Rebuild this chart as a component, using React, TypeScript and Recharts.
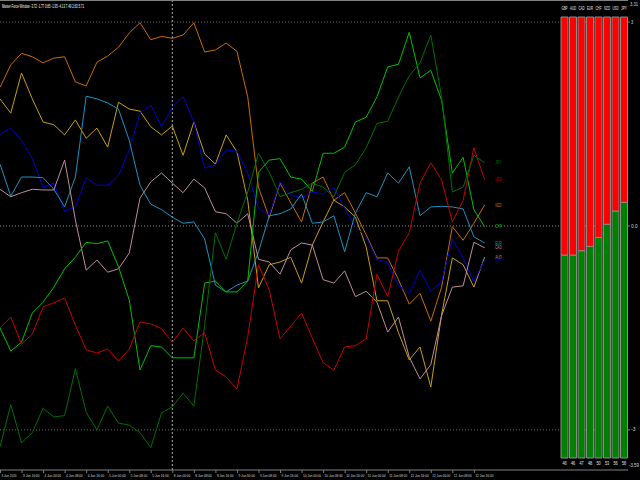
import React from "react";
import { LineChart, Line, XAxis, YAxis, ReferenceLine, BarChart, Bar, LabelList } from "recharts";

const timeLabels = [
  "3 Jun 2020", "3 Jun 16:00", "4 Jun 00:00", "4 Jun 08:00", "4 Jun 16:00", "5 Jun 00:00",
  "5 Jun 08:00", "5 Jun 16:00", "8 Jun 00:00", "8 Jun 08:00", "8 Jun 16:00", "9 Jun 00:00",
  "9 Jun 08:00", "9 Jun 16:00", "10 Jun 00:00", "10 Jun 08:00", "10 Jun 16:00", "11 Jun 00:00",
  "11 Jun 08:00", "11 Jun 16:00", "12 Jun 00:00", "12 Jun 08:00", "12 Jun 16:00",
];

const nzd = [2.04, 2.37, 2.54, 2.49, 2.40, 2.47, 2.49, 2.12, 2.06, 2.41, 2.50, 2.63, 2.84, 2.99, 2.74, 2.79, 2.76, 2.81, 2.99, 2.56, 2.59, 2.69, 2.57, 1.90, 0.57, 0.12, 0.63, 0.34, 0.06, 0.63, 0.72, 0.38, 0.49, 0.19, -0.13, -0.47, -0.47, -0.79, -1.15, -0.99, -1.40, -0.90, -0.01, -0.21, 0.04, 0.31];
const aud = [1.87, 1.66, 2.25, 1.87, 1.53, 1.49, 1.34, 1.56, 1.29, 1.44, 1.16, 1.82, 1.72, 1.69, 1.46, 1.34, 1.47, 1.04, 1.53, 1.06, 0.91, 1.34, 1.09, 0.38, -0.91, -0.57, -0.53, -0.46, -0.84, -0.28, 0.06, 0.38, 0.28, 0.13, -0.31, -1.10, -1.10, -1.57, -1.97, -1.78, -2.37, -1.31, -0.47, -0.57, -0.90, -0.46];
const gbp = [1.35, 1.44, 1.26, 0.99, 0.57, 0.63, 0.22, 0.28, 0.71, 0.60, 0.60, 0.74, 1.12, 1.66, 1.78, 1.46, 1.75, 1.90, 1.53, 0.85, 0.90, 1.12, 1.10, 0.78, 0.26, 0.16, 0.65, 0.46, 0.41, 0.50, 0.47, 0.57, 0.26, -0.01, -0.16, -0.49, -0.54, -0.87, -0.99, -0.65, -0.96, -0.82, -0.19, -0.47, -0.82, -0.50];
const eur = [0.91, 0.44, 0.72, 0.72, 0.71, 0.54, 0.28, 0.72, 1.91, 1.87, 1.81, 1.72, 1.26, 0.60, 0.32, 0.24, 0.13, 0.04, 0.06, -0.19, -0.87, -0.97, -0.87, -0.81, -0.38, 0.15, 0.18, 0.25, 0.47, 0.04, 0.06, 0.15, -0.38, 0.19, 0.49, 0.43, 0.78, 0.63, 0.87, 0.15, 0.28, 0.29, 0.28, 0.25, -0.16, -0.25];
const cad = [0.54, 0.43, 0.49, 0.54, 0.53, 0.53, 0.97, 0.09, -0.65, -0.50, -0.68, -0.63, -0.40, 0.41, 0.65, 0.78, 0.63, 0.49, 0.69, 0.56, 0.21, 0.18, 0.04, 0.18, -0.49, -0.53, -0.71, -0.35, -0.25, -0.28, -0.79, -0.84, -0.66, -1.04, -0.96, -1.12, -1.56, -1.34, -1.93, -2.25, -2.04, -1.32, -0.90, -0.88, -0.24, -0.32];
const chf = [-1.50, -1.84, -1.71, -1.28, -1.12, -0.90, -0.63, -0.46, -0.24, -0.26, -0.22, -0.60, -1.09, -2.12, -1.76, -1.78, -1.94, -1.94, -1.94, -0.84, -0.81, -0.97, -0.97, -0.81, 0.79, 0.97, 0.99, 0.72, 0.69, 0.51, 1.07, 1.07, 1.16, 1.53, 1.60, 1.90, 2.34, 2.38, 2.85, 2.18, 2.29, 1.85, 0.78, 1.01, 0.24, -0.01];
const usd = [-1.50, -1.34, -1.74, -1.59, -1.19, -1.13, -1.06, -1.46, -1.82, -1.87, -1.81, -1.99, -1.81, -1.41, -1.44, -1.51, -1.71, -1.50, -1.69, -1.57, -2.12, -2.22, -2.40, -1.63, -0.57, -0.94, -1.66, -1.47, -1.28, -1.65, -2.01, -2.12, -1.78, -1.76, -1.66, -0.71, -1.04, -0.37, -0.10, 0.63, 0.93, 0.68, 0.06, 0.38, 1.15, 0.68];
const jpy = [-3.25, -2.63, -3.19, -3.04, -2.68, -2.81, -2.79, -2.10, -2.74, -3.00, -2.65, -2.90, -2.93, -3.04, -3.26, -2.75, -2.66, -2.46, -2.65, -1.46, -0.10, -0.49, 0.04, 0.50, 1.07, 0.79, 0.43, 0.49, 0.54, 0.63, 0.57, 0.43, 0.79, 0.90, 1.15, 1.51, 1.54, 1.90, 2.21, 2.40, 2.81, 1.90, 0.50, 0.57, 1.04, 0.93];

const levels = [3, 0, -3];
const levelLabels = ["3", "0.0", "-3"];
const separatorIndex = 16;

const currencies = ["GBP", "AUD", "CAD", "EUR", "CHF", "NZD", "USD", "JPY"];
const strength = [46, 46, 47, 48, 50, 53, 56, 58];
const weakness = [54, 54, 53, 52, 50, 47, 44, 42];

const headerText = "Master Force Window -3.72 -1.77 0.85 -1.95 -4.13 7.49 2.63 5.71";

const series = [
  { key: "NZD", color: "#c86e00", values: nzd },
  { key: "AUD", color: "#c8a010", values: aud },
  { key: "GBP", color: "#0000d0", values: gbp },
  { key: "EUR", color: "#1e92c0", values: eur },
  { key: "CAD", color: "#c08e9a", values: cad },
  { key: "CHF", color: "#00c000", values: chf },
  { key: "USD", color: "#c80000", values: usd },
  { key: "JPY", color: "#007000", values: jpy },
];

const data = nzd.map((_, i) => {
  const row: Record<string, number> = { i };
  series.forEach((s) => {
    row[s.key] = s.values[i];
  });
  return row;
});

const barData = currencies.map((c, k) => ({ cur: c, strong: strength[k], weak: weakness[k] }));

const FONT = "Liberation Sans, Arial, sans-serif";
const lastIndex = nzd.length - 1;

function XTick(props: any) {
  const { x, y, payload } = props;
  const label = timeLabels[Math.round(payload.value / 2)] ?? "";
  return (
    <g>
      <line x1={x + 0.5} x2={x + 0.5} y1={y} y2={y + 3} stroke="#808080" strokeWidth={1} />
      <text
        x={x + 1.5}
        y={y + 6.5}
        fill="#d8d8d8"
        fontSize={4}
        fontFamily={FONT}
        textLength={label.length * 1.5}
        lengthAdjust="spacingAndGlyphs"
      >
        {label}
      </text>
    </g>
  );
}

function YTick(props: any) {
  const { x, y, payload } = props;
  const idx = levels.indexOf(payload.value);
  const label = idx >= 0 ? levelLabels[idx] : String(payload.value);
  return (
    <g>
      <line x1={x} x2={x + 2} y1={y} y2={y} stroke="#808080" />
      <text x={x + 3} y={y + 1.6} fill="#d8d8d8" fontSize={5} fontFamily={FONT} textLength={label.length * 2.2} lengthAdjust="spacingAndGlyphs">
        {label}
      </text>
    </g>
  );
}

function makeEndLabel(name: string, color: string) {
  return (p: any) => {
    if (p.index !== lastIndex) return <g key={`d-${name}-${p.index}`} />;
    return (
      <text
        key={`l-${name}`}
        x={p.cx + 10.5}
        y={p.cy + 1.6}
        fill={color}
        fontSize={4.5}
        fontFamily={FONT}
        textLength={6.5}
        lengthAdjust="spacingAndGlyphs"
      >
        {name}
      </text>
    );
  };
}

const NameLabel = (props: any) => {
  const { x, width, y, index } = props;
  const name = currencies[index] ?? "";
  return (
    <text x={x + width / 2} y={y - 7} textAnchor="middle" fill="#e8e8e8" fontSize={4.5} fontFamily={FONT} textLength={6} lengthAdjust="spacingAndGlyphs">
      {name}
    </text>
  );
};

const PctLabel = (props: any) => {
  const { x, width, y, height, value } = props;
  const s = String(value);
  return (
    <text x={x + width / 2} y={y + height + 7} textAnchor="middle" fill="#e8e8e8" fontSize={4.5} fontFamily={FONT} textLength={4.2} lengthAdjust="spacingAndGlyphs">
      {s}
    </text>
  );
};

export default function App() {
  return (
    <div style={{ position: "fixed", left: 0, top: 0, width: 640, height: 480, background: "#000", overflow: "hidden" }}>
      <div style={{ position: "absolute", left: 0, top: 0 }}>
        <LineChart width={640} height={480} data={data} margin={{ top: 1, right: 0, bottom: 0, left: 0 }}>
          <XAxis
            dataKey="i"
            type="number"
            domain={[0, 58.31]}
            allowDataOverflow
            ticks={timeLabels.map((_, k) => k * 2)}
            interval={0}
            height={10}
            tickSize={0}
            tickMargin={0}
            tickLine={false}
            axisLine={{ stroke: "#808080" }}
            tick={<XTick />}
          />
          <YAxis
            orientation="right"
            type="number"
            domain={[-3.59, 3.31]}
            allowDataOverflow
            ticks={levels}
            interval={0}
            width={12}
            tickSize={0}
            tickMargin={0}
            tickLine={false}
            axisLine={false}
            tick={<YTick />}
          />
          {levels.map((lv) => (
            <ReferenceLine key={lv} y={lv} stroke={lv === 0 ? "#8a8a8a" : "#6a6a6a"} strokeDasharray="1 2" />
          ))}
          <ReferenceLine x={separatorIndex} stroke="#b0b0b0" strokeDasharray="2 2" />
          {series.map((s) => (
            <Line
              key={s.key}
              dataKey={s.key}
              stroke={s.color}
              strokeWidth={1}
              dot={makeEndLabel(s.key, s.color)}
              activeDot={false}
              isAnimationActive={false}
              type="linear"
            />
          ))}
        </LineChart>
      </div>
      <div style={{ position: "absolute", left: 560, top: 0 }}>
        <BarChart width={68} height={480} data={barData} margin={{ top: 17, right: 0, bottom: 22, left: 0 }} barCategoryGap={1}>
          <XAxis dataKey="cur" hide />
          <YAxis hide domain={[0, 100]} />
          <Bar dataKey="strong" stackId="a" fill="#008000" stroke="#8c8c8c" strokeWidth={1} isAnimationActive={false}>
            <LabelList dataKey="strong" content={<PctLabel />} />
          </Bar>
          <Bar dataKey="weak" stackId="a" fill="#ff0000" stroke="#8c8c8c" strokeWidth={1} isAnimationActive={false}>
            <LabelList dataKey="weak" content={<NameLabel />} />
          </Bar>
        </BarChart>
      </div>
      <svg width={640} height={480} style={{ position: "absolute", left: 0, top: 0, pointerEvents: "none" }}>
        <line x1={0} x2={628} y1={0.5} y2={0.5} stroke="#808080" />
        <text x={2} y={7.5} fill="#ffffff" fontSize={4.5} fontFamily={FONT} textLength={82} lengthAdjust="spacingAndGlyphs">
          {headerText}
        </text>
        <text x={630} y={6} fill="#d8d8d8" fontSize={5} fontFamily={FONT} textLength={8} lengthAdjust="spacingAndGlyphs">3.31</text>
        <text x={629} y={467} fill="#d8d8d8" fontSize={5} fontFamily={FONT} textLength={10} lengthAdjust="spacingAndGlyphs">-3.59</text>
      </svg>
    </div>
  );
}
